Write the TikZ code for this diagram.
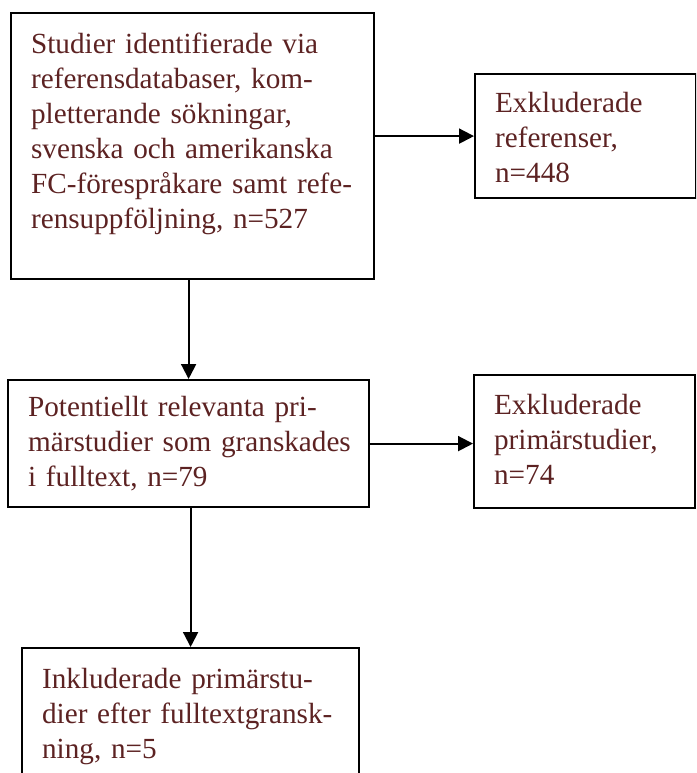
\documentclass[tikz,border=0pt]{standalone}
\usepackage{fontspec}
\setmainfont{Liberation Serif}
\usepackage{tikz}
\usetikzlibrary{arrows.meta}
\definecolor{boxtext}{RGB}{92,34,34}
\newcommand\boxfont{\fontsize{29.2}{35}\selectfont}
\tikzset{
	box/.style={draw, line width=2.2pt, anchor=north west, align=left, inner xsep=20pt, inner ysep=0pt, text=boxtext, font=\boxfont},
	arr/.style={line width=2pt, -{Triangle[length=15pt,width=15pt]}}
}
\begin{document}
\begin{tikzpicture}[x=1pt,y=-1pt]
			\useasboundingbox (0,0) rectangle (696,773);
			\clip (0,0) rectangle (696,773);
			\node[box, text width=323pt, text height=40pt, text depth=226pt] (ident) at (10,12) {Studier identifierade via\\referensdatabaser, kom-\\pletterande sökningar,\\svenska och amerikanska\\FC-förespråkare samt refe-\\rensuppföljning, n=527};
			\node[box, text width=181pt, text height=38pt, text depth=86pt] (exref) at (474,73) {Exkluderade\\referenser,\\n=448};
			\node[box, text width=321pt, text height=36pt, text depth=91pt] (potrel) at (7,379) {\makebox[\linewidth][s]{Potentiellt relevanta pri-}\\\makebox[\linewidth][s]{märstudier som granskades}\\i fulltext, n=79};
			\node[box, text width=181pt, text height=39pt, text depth=94pt] (exprim) at (473,374) {Exkluderade\\primärstudier,\\n=74};
			\node[box, text width=297pt, text height=40pt, text depth=140pt] (inkl) at (21,647) {Inkluderade primärstu-\\dier efter fulltextgransk-\\ning, n=5};
			\draw[arr] (ident.east |- exref.west) -- (exref.west);
			\draw[arr] (ident.south -| potrel.north) -- (potrel.north);
			\draw[arr] (potrel.east) -- (potrel.east -| exprim.west);
			\draw[arr] (potrel.south -| inkl.north) -- (inkl.north);
\end{tikzpicture}
\end{document}
